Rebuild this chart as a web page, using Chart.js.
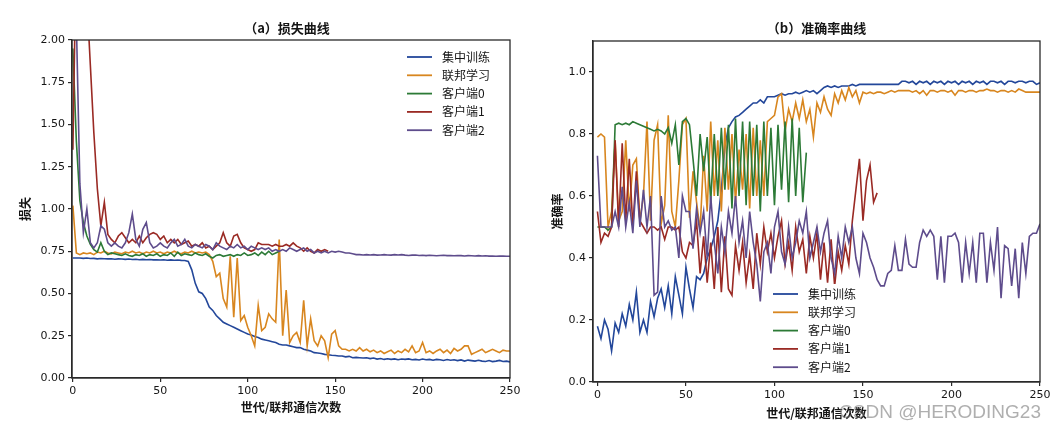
<!DOCTYPE html>
<html>
<head>
<meta charset="utf-8">
<script src="https://cdn.jsdelivr.net/npm/chart.js@4.4.1/dist/chart.umd.min.js"></script>
<style>
  html,body{margin:0;padding:0;background:#fff;width:1061px;height:432px;overflow:hidden;}
  .box{position:absolute;top:0;height:432px;}
  #wm{position:absolute;right:20px;top:401px;font:19px "Liberation Sans",Arial,sans-serif;color:rgba(110,110,110,0.55);white-space:nowrap;}
</style>
</head>
<body>
<div class="box" style="left:0;width:530px;"><canvas id="c1" width="530" height="432"></canvas></div>
<div class="box" style="left:530px;width:531px;"><canvas id="c2" width="531" height="432"></canvas></div>
<div id="wm">CSDN @HERODING23</div>
<script>
// ---------- shared ----------
const seriesNames = ['集中训练','联邦学习','客户端0','客户端1','客户端2'];
const epochs = [0,2,4,6,8,10,12,14,16,18,20,22,24,26,28,30,32,34,36,38,40,42,44,46,48,50,52,54,56,58,60,62,64,66,68,70,72,74,76,78,80,82,84,86,88,90,92,94,96,98,100,102,104,106,108,110,112,114,116,118,120,122,124,126,128,130,132,134,136,138,140,142,144,146,148,150,152,154,156,158,160,162,164,166,168,170,172,174,176,178,180,182,184,186,188,190,192,194,196,198,200,202,204,206,208,210,212,214,216,218,220,222,224,226,228,230,232,234,236,238,240,242,244,246,248,250];
const xTicks = [0,50,100,150,200,250];
const lossTicks = [0,0.25,0.5,0.75,1.0,1.25,1.5,1.75,2.0];
const accTicks = [0,0.2,0.4,0.6,0.8,1.0];

// ---------- (a) loss ----------
const lossCentral = [
0.71,0.71,0.71,0.708,0.71,0.707,0.708,0.705,0.707,0.706,
0.705,0.706,0.703,0.705,0.704,0.702,0.704,0.701,0.703,0.70,
0.702,0.70,0.701,0.699,0.70,0.698,0.70,0.697,0.699,0.697,
0.698,0.696,0.695,0.69,0.64,0.56,0.51,0.50,0.47,0.42,
0.40,0.37,0.35,0.33,0.32,0.31,0.30,0.29,0.28,0.27,
0.26,0.255,0.245,0.24,0.23,0.225,0.22,0.215,0.21,0.20,
0.195,0.195,0.19,0.185,0.18,0.18,0.17,0.165,0.16,0.15,
0.148,0.145,0.14,0.138,0.135,0.133,0.13,0.13,0.125,0.128,
0.12,0.122,0.12,0.118,0.12,0.115,0.118,0.112,0.115,0.11,
0.114,0.11,0.113,0.108,0.112,0.11,0.113,0.108,0.11,0.107,
0.112,0.108,0.11,0.105,0.11,0.108,0.104,0.109,0.105,0.108,
0.103,0.107,0.10,0.106,0.103,0.10,0.105,0.10,0.098,0.103,
0.097,0.10,0.104,0.098,0.10,0.095];
const lossFed = [
1.02,0.74,0.73,0.74,0.735,0.74,0.73,0.745,0.74,0.75,
0.74,0.735,0.745,0.74,0.735,0.745,0.74,0.75,0.74,0.745,
0.735,0.745,0.74,0.75,0.74,0.745,0.735,0.745,0.74,0.75,
0.74,0.735,0.745,0.74,0.75,0.74,0.745,0.74,0.745,0.73,
0.69,0.60,0.62,0.47,0.42,0.72,0.36,0.71,0.34,0.37,
0.30,0.25,0.19,0.43,0.28,0.30,0.38,0.35,0.33,0.82,
0.25,0.52,0.21,0.25,0.27,0.21,0.46,0.19,0.35,0.22,
0.19,0.25,0.22,0.12,0.26,0.28,0.19,0.17,0.17,0.16,
0.17,0.16,0.18,0.16,0.17,0.155,0.165,0.15,0.16,0.145,
0.155,0.165,0.145,0.16,0.15,0.17,0.155,0.19,0.15,0.16,
0.21,0.15,0.16,0.145,0.16,0.17,0.15,0.165,0.145,0.175,
0.16,0.17,0.19,0.19,0.14,0.15,0.16,0.17,0.15,0.16,
0.17,0.16,0.15,0.165,0.16,0.16];
const lossClient0 = [
1.95,1.40,1.05,0.92,0.84,0.79,0.76,0.745,0.80,0.75,
0.73,0.74,0.735,0.73,0.725,0.735,0.725,0.72,0.73,0.725,
0.735,0.72,0.73,0.725,0.735,0.72,0.73,0.725,0.74,0.72,
0.745,0.725,0.735,0.73,0.725,0.74,0.73,0.725,0.735,0.72,
0.71,0.725,0.73,0.72,0.725,0.73,0.72,0.73,0.725,0.74,
0.725,0.73,0.74,0.725,0.745,0.73,0.75,0.73,0.74,0.75];
const lossClient1 = [
1.35,2.6,2.5,2.4,2.25,1.85,1.45,1.12,0.90,1.04,
0.85,0.82,0.80,0.84,0.86,0.83,0.80,0.82,0.80,0.84,
0.80,0.83,0.85,0.86,0.85,0.82,0.84,0.80,0.82,0.80,
0.82,0.79,0.80,0.81,0.78,0.79,0.78,0.80,0.77,0.78,
0.76,0.78,0.80,0.86,0.80,0.78,0.84,0.85,0.80,0.77,
0.76,0.75,0.76,0.80,0.79,0.79,0.79,0.78,0.79,0.78,
0.78,0.79,0.78,0.80,0.78,0.77,0.75,0.77,0.75,0.74,
0.76,0.75,0.76,0.75];
const lossClient2 = [
2.5,2.1,1.15,0.86,1.0,0.80,0.77,0.80,0.90,0.88,
0.80,0.78,0.80,0.78,0.77,0.80,0.86,0.97,0.82,0.78,
0.88,0.92,0.80,0.77,0.78,0.80,0.78,0.77,0.80,0.82,
0.78,0.79,0.82,0.78,0.77,0.79,0.78,0.77,0.79,0.78,
0.76,0.80,0.78,0.77,0.76,0.78,0.77,0.79,0.77,0.78,
0.76,0.78,0.77,0.76,0.77,0.76,0.77,0.75,0.76,0.75,
0.76,0.75,0.77,0.76,0.75,0.76,0.77,0.75,0.76,0.74,
0.75,0.74,0.75,0.74,0.75,0.745,0.75,0.745,0.74,0.74,
0.735,0.73,0.73,0.728,0.73,0.728,0.73,0.727,0.728,0.73,
0.728,0.727,0.73,0.728,0.73,0.727,0.725,0.727,0.728,0.725,
0.726,0.724,0.726,0.725,0.723,0.725,0.726,0.724,0.725,0.723,
0.725,0.724,0.722,0.724,0.723,0.722,0.724,0.722,0.723,0.721,
0.722,0.72,0.722,0.721,0.72,0.72];

// ---------- (b) accuracy ----------
const accCentral = [
0.18,0.14,0.20,0.17,0.10,0.19,0.16,0.22,0.18,0.25,
0.20,0.29,0.16,0.20,0.16,0.26,0.21,0.27,0.30,0.24,
0.31,0.22,0.34,0.28,0.22,0.37,0.30,0.24,0.34,0.33,
0.35,0.40,0.43,0.47,0.52,0.62,0.76,0.82,0.84,0.855,
0.86,0.87,0.88,0.89,0.90,0.90,0.91,0.90,0.92,0.92,
0.92,0.925,0.93,0.925,0.93,0.93,0.935,0.93,0.935,0.94,
0.935,0.94,0.93,0.94,0.95,0.955,0.95,0.955,0.95,0.955,
0.955,0.955,0.96,0.955,0.96,0.96,0.96,0.96,0.96,0.96,
0.96,0.96,0.96,0.96,0.96,0.96,0.97,0.97,0.965,0.97,
0.96,0.97,0.965,0.97,0.96,0.97,0.965,0.97,0.96,0.97,
0.965,0.97,0.96,0.97,0.965,0.97,0.96,0.97,0.965,0.97,
0.96,0.97,0.97,0.965,0.97,0.96,0.97,0.97,0.965,0.97,
0.97,0.965,0.97,0.97,0.96,0.965];
const accFed = [
0.79,0.80,0.79,0.50,0.55,0.78,0.52,0.55,0.78,0.55,
0.70,0.72,0.52,0.60,0.84,0.52,0.78,0.83,0.51,0.57,
0.86,0.55,0.50,0.65,0.83,0.85,0.53,0.68,0.58,0.49,
0.73,0.55,0.84,0.60,0.78,0.55,0.82,0.62,0.80,0.58,
0.75,0.62,0.80,0.56,0.82,0.60,0.78,0.60,0.84,0.85,
0.86,0.92,0.93,0.81,0.88,0.84,0.90,0.85,0.91,0.84,
0.88,0.79,0.90,0.87,0.92,0.88,0.86,0.93,0.90,0.94,
0.91,0.95,0.92,0.94,0.90,0.935,0.93,0.935,0.93,0.935,
0.935,0.93,0.935,0.94,0.935,0.94,0.94,0.94,0.94,0.935,
0.94,0.93,0.94,0.925,0.94,0.94,0.935,0.94,0.94,0.935,
0.94,0.925,0.94,0.94,0.935,0.94,0.94,0.935,0.94,0.94,
0.945,0.94,0.94,0.935,0.94,0.94,0.935,0.94,0.935,0.945,
0.94,0.935,0.935,0.935,0.935,0.935];
const accClient0 = [
0.50,0.50,0.50,0.49,0.50,0.83,0.835,0.83,0.835,0.83,
0.84,0.835,0.83,0.825,0.82,0.815,0.81,0.815,0.81,0.80,
0.82,0.77,0.83,0.70,0.84,0.85,0.83,0.72,0.60,0.80,
0.68,0.79,0.58,0.80,0.60,0.82,0.62,0.83,0.56,0.85,
0.60,0.84,0.57,0.84,0.60,0.83,0.55,0.84,0.60,0.82,
0.57,0.83,0.62,0.84,0.58,0.85,0.60,0.82,0.58,0.74];
const accClient1 = [
0.55,0.45,0.48,0.47,0.50,0.78,0.50,0.77,0.52,0.72,
0.50,0.68,0.52,0.50,0.48,0.50,0.50,0.49,0.50,0.46,
0.50,0.50,0.49,0.50,0.42,0.40,0.45,0.44,0.52,0.35,
0.47,0.32,0.45,0.30,0.50,0.29,0.47,0.30,0.28,0.44,
0.36,0.45,0.32,0.41,0.30,0.48,0.38,0.50,0.42,0.48,
0.40,0.47,0.52,0.38,0.45,0.36,0.50,0.42,0.46,0.35,
0.47,0.40,0.48,0.33,0.45,0.32,0.46,0.31,0.42,0.36,
0.44,0.38,0.52,0.62,0.72,0.52,0.65,0.70,0.58,0.61];
const accClient2 = [
0.73,0.50,0.50,0.50,0.50,0.55,0.50,0.63,0.50,0.58,
0.48,0.65,0.50,0.62,0.50,0.60,0.28,0.29,0.60,0.50,
0.52,0.49,0.50,0.40,0.60,0.55,0.55,0.43,0.56,0.48,
0.55,0.40,0.60,0.45,0.35,0.50,0.42,0.55,0.48,0.60,
0.45,0.52,0.40,0.55,0.45,0.38,0.26,0.42,0.45,0.35,
0.50,0.55,0.42,0.38,0.50,0.40,0.45,0.52,0.48,0.55,
0.40,0.45,0.50,0.42,0.48,0.52,0.40,0.35,0.47,0.40,
0.50,0.45,0.50,0.40,0.35,0.48,0.45,0.40,0.37,0.33,
0.31,0.31,0.35,0.36,0.44,0.36,0.36,0.46,0.38,0.37,
0.37,0.45,0.49,0.47,0.49,0.47,0.33,0.47,0.32,0.47,
0.47,0.48,0.45,0.32,0.45,0.35,0.45,0.32,0.48,0.48,
0.32,0.45,0.36,0.50,0.27,0.44,0.43,0.31,0.43,0.27,
0.45,0.35,0.47,0.48,0.48,0.51];

const colors = ['#23479a','#d8861f','#2c7a36','#9a2a24','#5e4c8c'];
const TXT = '#151515';
const CJK = '"Noto Sans CJK SC","Noto Sans",sans-serif';
const TICKF = {family:'"DejaVu Sans",sans-serif', size:11};

function pts(ys){ return ys.map((y,i)=>({x:epochs[i], y:y})); }

function makeDatasets(list){
  return list.map((ys,i)=>({
    label: seriesNames[i], data: pts(ys), borderColor: colors[i], backgroundColor: colors[i],
    borderWidth: 1.6, pointRadius: 0, tension: 0, fill: false, order: 5 - i
  }));
}

const framePlugin = {
  id:'frame',
  afterDraw(chart, args, opts){
    const ctx = chart.ctx, a = chart.chartArea;
    ctx.save();
    ctx.strokeStyle = '#2a2a2a'; ctx.lineWidth = 1.3;
    ctx.strokeRect(a.left, a.top, a.right - a.left, a.bottom - a.top);
    ctx.fillStyle = TXT; ctx.font = 'bold 13px ' + CJK;
    ctx.textAlign = 'center'; ctx.textBaseline = 'middle';
    ctx.fillText(opts.title, (a.left + a.right)/2 + opts.titleDx, opts.titleY);
    const L = opts.legend;
    if (L.bg){ ctx.fillStyle = '#fff'; ctx.fillRect(L.x - 8, L.y - 10, 100, 5*L.dy + 2); }
    ctx.font = '12px ' + CJK; ctx.textAlign = 'left';
    seriesNames.forEach((n,i)=>{
      const y = L.y + i*L.dy;
      ctx.strokeStyle = colors[i]; ctx.lineWidth = 1.8;
      ctx.beginPath(); ctx.moveTo(L.x, y); ctx.lineTo(L.x + 25, y); ctx.stroke();
      ctx.fillStyle = TXT; ctx.fillText(n, L.x + 35, y);
    });
    ctx.restore();
  }
};

function makeChart(id, cfg){
  return new Chart(document.getElementById(id), {
    type:'line',
    data:{ datasets: makeDatasets(cfg.series) },
    plugins:[framePlugin],
    options:{
      responsive:false, animation:false, devicePixelRatio:1,
      layout:{ padding: cfg.pad },
      plugins:{ legend:{display:false}, tooltip:{enabled:false},
        frame:{ title: cfg.title, titleY: cfg.titleY, titleDx: cfg.titleDx, legend: cfg.legend } },
      scales:{
        x:{ type:'linear', min: cfg.xmin, max: 250,
          afterBuildTicks: s => { s.ticks = xTicks.map(v=>({value:v})); },
          afterFit: s => { s.height = cfg.xh; },
          ticks:{ font:TICKF, color:TXT, maxRotation:0, padding:3, callback: v => String(v) },
          grid:{ display:true, drawOnChartArea:false, drawTicks:true, tickLength:4, color:'#2a2a2a', lineWidth:1.2 },
          border:{ display:true, color:'#2a2a2a', width:1.3 },
          title:{ display:true, text:'世代/联邦通信次数', color:TXT, font:{family:CJK, size:12, weight:'bold'}, padding:{top:2,bottom:0} }
        },
        y:{ type:'linear', min: cfg.ymin, max: cfg.ymax,
          afterBuildTicks: s => { s.ticks = cfg.yTicks.map(v=>({value:v})); },
          afterFit: s => { s.width = cfg.yw; },
          ticks:{ font:TICKF, color:TXT, padding:3, callback: v => v.toFixed(cfg.dec) },
          grid:{ display:true, drawOnChartArea:false, drawTicks:true, tickLength:4, color:'#2a2a2a', lineWidth:1.2 },
          border:{ display:true, color:'#2a2a2a', width:1.3 },
          title:{ display:true, text: cfg.ylabel, color:TXT, font:{family:CJK, size:12, weight:'bold'}, padding:{top:0,bottom:0} }
        }
      }
    }
  });
}

makeChart('c1', {
  series:[lossCentral, lossFed, lossClient0, lossClient1, lossClient2],
  pad:{left:18, right:20, top:40, bottom:17}, xh:37, yw:54,
  xmin:-0.5, ymin:0, ymax:2.0, yTicks:lossTicks, dec:2, ylabel:'损失',
  title:'（a）损失曲线', titleY:28, titleDx:-4,
  legend:{x:407, y:57, dy:18.3, bg:false}
});
makeChart('c2', {
  series:[accCentral, accFed, accClient0, accClient1, accClient2],
  pad:{left:20, right:21, top:41, bottom:11}, xh:39, yw:43,
  xmin:-2.5, ymin:0, ymax:1.1, yTicks:accTicks, dec:1, ylabel:'准确率',
  title:'（b）准确率曲线', titleY:28, titleDx:0,
  legend:{x:243, y:294, dy:18.3, bg:true}
});
</script>
</body>
</html>
